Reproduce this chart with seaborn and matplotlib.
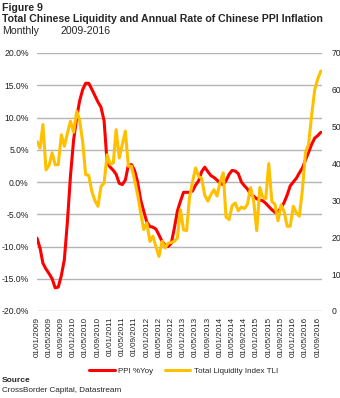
import matplotlib
matplotlib.use("Agg")
import matplotlib.pyplot as plt
import seaborn as sns
import pandas as pd

# Monthly series, Jan 2009 - Oct 2016
ppi_yoy = [
    -8.7, -10.3, -12.6, -13.5, -14.2, -15.0, -16.4, -16.3, -14.5, -12.0,
    -6.0, 1.0, 6.5, 10.0, 12.5, 14.3, 15.3, 15.3, 14.4, 13.4,
    12.4, 11.6, 9.5, 3.0, 2.3, 1.8, 1.2, -0.2, -0.4, 0.3,
    2.6, 2.7, 1.8, 0.0, -2.8, -4.5, -6.2, -6.9, -7.0, -7.3,
    -8.2, -9.2, -9.8, -10.0, -9.5, -7.2, -4.5, -3.0, -1.6, -1.6,
    -1.6, -1.4, -0.5, 0.2, 1.6, 2.3, 1.6, 1.0, 0.7, 0.3,
    -0.2, -0.4, 0.2, 1.2, 1.8, 1.7, 1.3, 0.0, -0.6, -1.1,
    -1.9, -2.2, -2.6, -2.8, -2.9, -3.3, -3.8, -4.3, -4.7, -4.6,
    -4.0, -3.2, -2.0, -0.6, 0.0, 0.6, 1.4, 2.2, 3.4, 4.6,
    5.8, 6.8, 7.2, 7.7,
]
tli = [
    46.0, 44.2, 50.6, 38.3, 39.5, 42.9, 39.7, 39.7, 47.8, 44.7,
    48.3, 51.5, 48.5, 54.2, 51.9, 46.0, 37.0, 36.8, 32.5, 30.0,
    28.4, 33.8, 34.7, 42.4, 39.8, 40.2, 49.2, 41.5, 45.1, 48.8,
    39.3, 39.3, 35.6, 31.6, 26.6, 22.1, 23.9, 18.9, 20.3, 17.5,
    14.8, 18.9, 17.1, 18.4, 18.6, 18.9, 19.8, 27.5, 22.0, 21.8,
    30.6, 35.0, 38.8, 36.5, 36.0, 31.4, 29.8, 31.6, 32.9, 31.2,
    35.0, 37.5, 25.5, 24.8, 28.6, 29.3, 27.2, 28.2, 27.8, 29.0,
    33.5, 30.0, 21.8, 33.5, 31.0, 30.5, 40.0, 29.7, 29.0, 24.5,
    28.8, 27.0, 23.0, 23.0, 28.4, 26.6, 25.7, 33.0, 42.9, 45.2,
    52.9, 60.0, 63.0, 65.1,
]
dates = pd.date_range("2009-01-01", periods=len(ppi_yoy), freq="MS")
df = pd.DataFrame({"date": dates, "ppi": ppi_yoy, "tli": tli})

left_ticks = [20, 15, 10, 5, 0, -5, -10, -15, -20]
right_ticks = [70, 60, 50, 40, 30, 20, 10, 0]
tick_dates = pd.date_range("2009-01-01", "2016-09-01", freq="4MS")

RED = "#ff0000"
GOLD = "#ffc000"
GRID = "#b4b4b4"

sns.set_theme(style="white")
plt.rcParams["font.family"] = ["Liberation Sans", "DejaVu Sans"]

fig = plt.figure(figsize=(3.4, 3.98), dpi=100)
ax = fig.add_axes([37 / 340, 1 - 311 / 398, (322 - 37) / 340, (311 - 53) / 398])
ax2 = ax.twinx()

for y in left_ticks:
    ax.axhline(y, color=GRID, lw=1.0, zorder=0)

sns.lineplot(data=df, x="date", y="ppi", ax=ax, color=RED, lw=2.2,
             label="PPI %Yoy", legend=False)
sns.lineplot(data=df, x="date", y="tli", ax=ax2, color=GOLD, lw=2.2,
             label="Total Liquidity Index TLI", legend=False)

ax.set_ylim(-20, 20)
ax2.set_ylim(0, 70)
ax.set_xlim(pd.Timestamp("2009-01-01"), pd.Timestamp("2016-10-13"))

ax.set_yticks(left_ticks)
ax.set_yticklabels([f"{v:.1f}%" for v in left_ticks], fontsize=6.2)
ax2.set_yticks(right_ticks)
ax2.set_yticklabels([str(v) for v in right_ticks], fontsize=6.2)

ax.set_xticks(tick_dates)
ax.set_xticklabels([d.strftime("%d/%m/%Y") for d in tick_dates],
                   rotation=90, fontsize=5.8)

for a in (ax, ax2):
    a.set_xlabel("")
    a.set_ylabel("")
    for s in a.spines.values():
        s.set_visible(False)
    a.tick_params(length=0, pad=3, colors="#222222")
ax.tick_params(axis="y", pad=6)
ax2.tick_params(axis="y", pad=7)
ax.tick_params(axis="x", pad=4)

h1, l1 = ax.get_legend_handles_labels()
h2, l2 = ax2.get_legend_handles_labels()
fig.legend(h1 + h2, l1 + l2, loc="center", bbox_to_anchor=(0.54, 1 - 371 / 398),
           ncol=2, frameon=False, fontsize=5.8, handlelength=3.2,
           handletextpad=0.4, columnspacing=1.4)

fig.text(2 / 340, 1 - 8 / 398, "Figure 9", fontsize=7.6, fontweight="bold", va="center")
fig.text(2 / 340, 1 - 19 / 398,
         "Total Chinese Liquidity and Annual Rate of Chinese PPI Inflation",
         fontsize=7.6, fontweight="bold", va="center")
fig.text(2 / 340, 1 - 31 / 398, "Monthly", fontsize=7.6, va="center")
fig.text(60 / 340, 1 - 31 / 398, "2009-2016", fontsize=7.6, va="center")
fig.text(2 / 340, 1 - 381 / 398, "Source", fontsize=6.0, fontweight="bold", va="center")
fig.text(2 / 340, 1 - 391 / 398, "CrossBorder Capital, Datastream", fontsize=5.9, va="center")

fig.savefig("out.png", dpi=100)
